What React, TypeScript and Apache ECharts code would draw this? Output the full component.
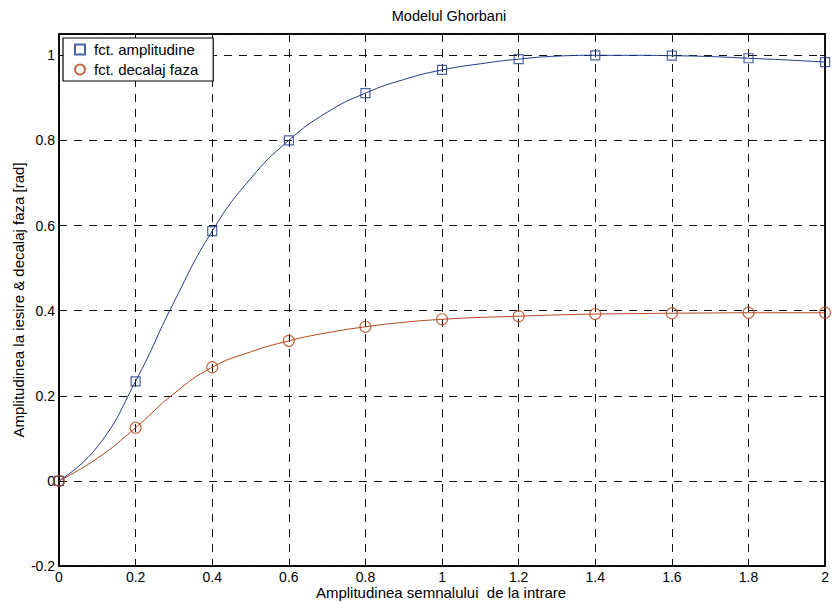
import React, { useEffect, useRef } from "react";
import * as echarts from "echarts";

const titleText = "Modelul Ghorbani";
const xName = "Amplitudinea semnalului\u00a0 de la intrare";
const yName = "Amplitudinea la iesire & decalaj faza [rad]";
const seriesNames = ["fct. amplitudine", "fct. decalaj faza"];

// marker positions
const markerX = [0, 0.2, 0.4, 0.6, 0.8, 1.0, 1.2, 1.4, 1.6, 1.8, 2.0];
const ampMarkers = [0, 0.234, 0.587, 0.8, 0.911, 0.9655, 0.991, 1.0, 0.999, 0.993, 0.984];
const phaseMarkers = [0, 0.125, 0.267, 0.329, 0.362, 0.3796, 0.387, 0.392, 0.394, 0.395, 0.395];

// curve values (every 0.1)
const curveX = [0, 0.1, 0.2, 0.3, 0.4, 0.5, 0.6, 0.7, 0.8, 0.9, 1.0, 1.1, 1.2, 1.3, 1.4, 1.5, 1.6, 1.7, 1.8, 1.9, 2.0];
const ampCurve = [0, 0.08, 0.234, 0.42, 0.587, 0.71, 0.8, 0.866, 0.911, 0.943, 0.9655, 0.98, 0.991, 0.998, 1.0, 1.0, 0.999, 0.997, 0.993, 0.989, 0.984];
const phaseCurve = [0, 0.053, 0.125, 0.205, 0.267, 0.303, 0.329, 0.348, 0.362, 0.3725, 0.3796, 0.384, 0.387, 0.39, 0.392, 0.393, 0.394, 0.3945, 0.395, 0.395, 0.395];

const xTicks = { min: 0, max: 2, interval: 0.2 };
const yTicks = { min: -0.2, max: 1.05, interval: 0.2 };

const BLUE = "#1F3C8C";
const ORANGE = "#B4451B";
const FONT = "'Liberation Sans', Arial, Helvetica, sans-serif";

export default function App() {
  const ref = useRef<HTMLDivElement>(null);
  useEffect(() => {
    if (!ref.current) return;
    const chart = echarts.init(ref.current, null, { renderer: "svg" });
    const zip = (xs: number[], ys: number[]) => xs.map((x, i) => [x, ys[i]]);
    const gridDash = { color: "#111", width: 1, type: [8, 7] as any };
    const edgeAxis = {
      axisLine: { show: true, onZero: false, lineStyle: { color: "#000", width: 1.5 } },
      axisTick: { show: true, inside: true, length: 5, lineStyle: { color: "#000" } },
    };
    chart.setOption({
      animation: false,
      backgroundColor: "#fff",
      textStyle: { fontFamily: FONT },
      grid: {
        left: 59, right: 3, top: 34, bottom: 36,
        show: true, borderColor: "#000", borderWidth: 1.5, backgroundColor: "#fff",
      },
      title: {
        text: titleText, left: 444, top: 3, textAlign: "center",
        textStyle: { fontFamily: FONT, fontSize: 14.5, fontWeight: "normal", color: "#000" },
      },
      legend: {
        left: 63, top: 38, orient: "vertical",
        data: seriesNames,
        backgroundColor: "#fff", borderColor: "#000", borderWidth: 1.2, borderRadius: 0,
        padding: [3, 15, 3, 11], itemGap: 3, itemWidth: 10, itemHeight: 10,
        textStyle: { fontFamily: FONT, fontSize: 15, color: "#000", lineHeight: 17, padding: [0, 0, 0, 4] },
        selectedMode: false,
      },
      xAxis: [
        {
          type: "value", ...xTicks, ...edgeAxis,
          axisLabel: { color: "#000", fontSize: 14, fontFamily: FONT, margin: 4 },
          splitLine: { show: true, lineStyle: gridDash },
        },
        {
          type: "value", position: "top", ...xTicks, ...edgeAxis,
          axisLabel: { show: false },
          splitLine: { show: false },
        },
      ],
      yAxis: [
        {
          type: "value", ...yTicks, ...edgeAxis,
          axisLabel: {
            color: "#000", fontSize: 14, fontFamily: FONT, margin: 4,
            formatter: (v: number) => (Math.abs(v - 1.05) < 1e-6 ? "" : String(Math.round(v * 10) / 10)),
          },
          splitLine: { show: true, lineStyle: gridDash },
        },
        {
          type: "value", position: "right", ...yTicks, ...edgeAxis,
          axisLabel: { show: false },
          splitLine: { show: false },
        },
      ],
      graphic: [
        {
          type: "text", x: 441, y: 592,
          style: { text: xName, fontFamily: FONT, fontSize: 15, fill: "#000", align: "center", verticalAlign: "middle" },
        },
        {
          type: "text", x: 18, y: 300, rotation: Math.PI / 2,
          style: { text: yName, fontFamily: FONT, fontSize: 15, fill: "#000", align: "center", verticalAlign: "middle" },
        },
      ],
      series: [
        {
          name: "ampCurve", type: "line", smooth: 0.5, showSymbol: false, symbol: "none",
          data: zip(curveX, ampCurve), lineStyle: { color: BLUE, width: 1 }, z: 3, silent: true,
        },
        {
          name: "phaseCurve", type: "line", smooth: 0.5, showSymbol: false, symbol: "none",
          data: zip(curveX, phaseCurve), lineStyle: { color: ORANGE, width: 1 }, z: 3, silent: true,
        },
        {
          name: seriesNames[0], type: "scatter", symbol: "rect", symbolSize: 9, clip: false,
          data: zip(markerX, ampMarkers),
          itemStyle: { color: "rgba(255,255,255,0)", borderColor: BLUE, borderWidth: 1.2 }, z: 4,
        },
        {
          name: seriesNames[1], type: "scatter", symbol: "circle", symbolSize: 11, clip: false,
          data: zip(markerX, phaseMarkers),
          itemStyle: { color: "rgba(255,255,255,0)", borderColor: ORANGE, borderWidth: 1.2 }, z: 4,
        },
      ],
    });
    return () => chart.dispose();
  }, []);
  return <div ref={ref} style={{ width: 832, height: 602, position: "absolute", left: 0, top: 0 }} />;
}
